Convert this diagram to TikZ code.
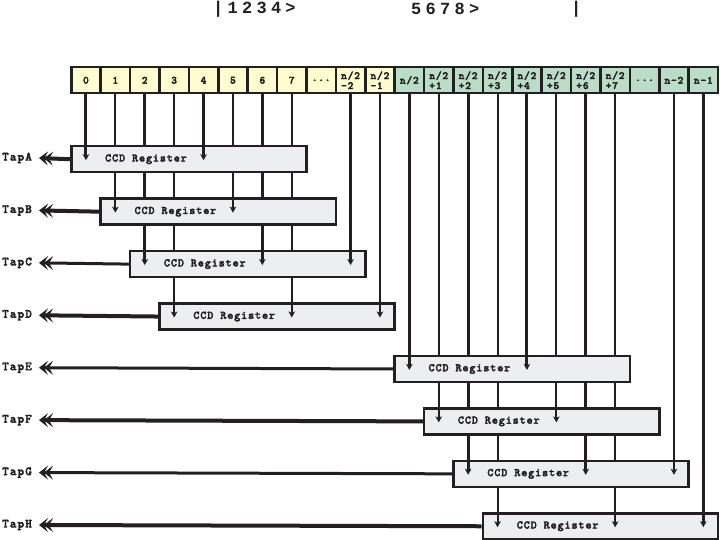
\documentclass[tikz,border=0pt]{standalone}
\usepackage{fontspec}
\newfontfamily\topfont[LetterSpace=25]{Liberation Mono}
\newfontfamily\cellfont[LetterSpace=7,FakeBold=3]{lmmonolt10-bold.otf}
\newfontfamily\regfont[LetterSpace=8,FakeBold=3]{lmmonolt10-bold.otf}
\newfontfamily\tapfont[LetterSpace=9,FakeBold=3]{lmmonolt10-bold.otf}
\usetikzlibrary{arrows.meta,backgrounds,calc}
\definecolor{ink}{HTML}{231F20}
\definecolor{cellY}{HTML}{FFFDD0}
\definecolor{cellG}{HTML}{B9DDC9}
\definecolor{regfill}{HTML}{EDEEF0}
\newcommand\dotsthree{.{}.{}.}
\begin{document}
\begin{tikzpicture}[x=1pt,y=-1pt,
  cellbox/.style={draw=ink,line width=2.5pt,minimum width=29.4pt,minimum height=26pt,
    inner sep=0pt,anchor=north west,text=ink,align=left,
    font=\cellfont\fontsize{11}{10}\selectfont},
  regbox/.style={draw=ink,fill=regfill,line width=2.5pt,minimum width=235.2pt,
    minimum height=26pt,inner sep=0pt,anchor=north west},
  reglabel/.style={font=\regfont\fontsize{11.5}{12}\selectfont,text=ink,inner sep=0pt},
  taplabel/.style={font=\tapfont\fontsize{12.5}{12}\selectfont,text=ink,anchor=west,inner sep=0pt},
  toplabel/.style={font=\topfont\bfseries\fontsize{17}{20}\selectfont,text=ink,anchor=west,inner sep=0pt},
  feed/.style={draw=ink,line width=#1},
  feedtip/.style={draw=ink,fill=ink,line width=#1,-{Stealth[length=6pt,width=6.5pt,inset=1.5pt]}},
  tapline/.style={draw=ink,fill=ink,line width=#1,
    -{Stealth[length=9pt,width=14pt,inset=4pt,sep=-4pt]Stealth[length=9pt,width=14pt,inset=4pt]}}
]
\useasboundingbox (0,0) rectangle (720,540);

% top text
\node[toplabel] (topa) at (213,9) {|1234>};
\node[toplabel] (topb) at (411,9) {5678>};
\node[toplabel] (topc) at (571,9) {|};

% cells
\foreach \lbl [count=\i from 0] in {0,1,2,3,4,5,6,7,\dotsthree,{n/2\\-2},{n/2\\-1}}
  \node[cellbox,fill=cellY] (c\i) at ({70+\i*29.4},66) {\lbl};
\foreach \lbl [count=\i from 11] in {n/2,{n/2\\+1},{n/2\\+2},{n/2\\+3},{n/2\\+4},{n/2\\+5},{n/2\\+6},{n/2\\+7},\dotsthree,n-2,n-1}
  \node[cellbox,fill=cellG] (c\i) at ({70+\i*29.4},66) {\lbl};

% registers
\foreach \r/\k/\j in {A/0/0,B/1/1,C/2/2,D/3/3,E/11/4,F/12/5,G/13/6,H/14/7}{
  \node[regbox] (r\r) at ({70+\k*29.4},{145+\j*52.43}) {};
  \node[reglabel] (l\r) at ($(r\r.west)+(76,0)$) {CCD Register};
  \node[taplabel] (t\r) at (2,{158+\j*52.43}) {Tap\r};
}

% vertical feed lines behind the registers
\begin{pgfonlayer}{background}
\fill[white] (0,0) rectangle (720,540);
\foreach \i/\r/\w in {0/A/3,4/A/3,1/B/2,5/B/2,2/C/3,6/C/3,9/C/3,3/D/2,7/D/2,10/D/2,
                      11/E/3,15/E/3,12/F/2,16/F/2,13/G/3,17/G/3,20/G/2,14/H/2,18/H/2,21/H/3}
  \draw[feed=\w pt] (c\i.south) -- (c\i.south |- r\r.north);
\end{pgfonlayer}

% arrow ends inside the target registers
\foreach \i/\r/\w in {0/A/3,4/A/3,1/B/2,5/B/2,2/C/3,6/C/3,9/C/3,3/D/2,7/D/2,10/D/2,
                      11/E/3,15/E/3,12/F/2,16/F/2,13/G/3,17/G/3,20/G/2,14/H/2,18/H/2,21/H/3}
  \draw[feedtip=\w pt] (c\i.south |- r\r.north) -- ($(c\i.south |- r\r.center)+(0,1)$);

% tap outputs
\foreach \r/\w in {A/4,B/4,C/3,D/4,E/3,F/4,G/3,H/4}
  \draw[tapline=\w pt] (r\r.west) -- ($(t\r.east)+(7,0)$);
\end{tikzpicture}
\end{document}
